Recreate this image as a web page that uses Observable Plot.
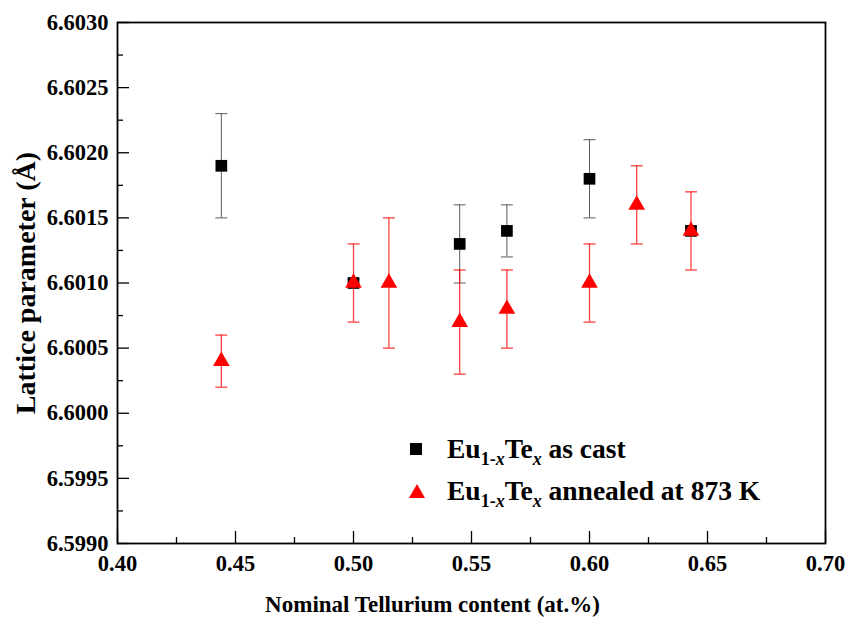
<!DOCTYPE html>
<html><head><meta charset="utf-8">
<script src="https://cdn.jsdelivr.net/npm/d3@7"></script>
<script src="https://cdn.jsdelivr.net/npm/@observablehq/plot@0.6"></script>
<style>
body{margin:0;background:#fff;}
#wrap{position:relative;width:845px;height:619px;font-family:"Liberation Serif","Tinos","Times New Roman","Times","DejaVu Serif",serif;}
.leg{position:absolute;font-weight:bold;font-size:27.5px;line-height:26px;white-space:nowrap;color:#000;}
.leg sub{font-size:18px;vertical-align:-7px;line-height:0;}
.leg svg{position:absolute;}
</style></head><body><div id="wrap"></div>
<script>
// ---- data ----
const castX     = [0.444, 0.500, 0.545, 0.565, 0.600, 0.643];
const castY     = [6.6019, 6.6010, 6.6013, 6.6014, 6.6018, 6.6014];
const castErr   = [0.0004, 0.00003, 0.0003, 0.0002, 0.0003, 0.00003];
const annealX   = [0.444, 0.500, 0.515, 0.545, 0.565, 0.600, 0.620, 0.643];
const annealY   = [6.6004, 6.6010, 6.6010, 6.6007, 6.6008, 6.6010, 6.6016, 6.6014];
const annealErr = [0.0002, 0.0003, 0.0005, 0.0004, 0.0003, 0.0003, 0.0003, 0.0003];
const xTicks = [0.40, 0.45, 0.50, 0.55, 0.60, 0.65, 0.70];
const xMinor = [0.425, 0.475, 0.525, 0.575, 0.625, 0.675];
const yTicks = [6.5990, 6.5995, 6.6000, 6.6005, 6.6010, 6.6015, 6.6020, 6.6025, 6.6030];
const yMinor = [6.59925, 6.59975, 6.60025, 6.60075, 6.60125, 6.60175, 6.60225, 6.60275];
const xTitle = "Nominal Tellurium content (at.%)";
const yTitle = "Lattice parameter (Å)";

const cast = castX.map((x, i) => ({x, y: castY[i], lo: castY[i] - castErr[i], hi: castY[i] + castErr[i]}));
const anneal = annealX.map((x, i) => ({x, y: annealY[i], lo: annealY[i] - annealErr[i], hi: annealY[i] + annealErr[i]}));

const cap = {draw(ctx, size) { const w = Math.sqrt(size / Math.PI); ctx.moveTo(-w, 0); ctx.lineTo(w, 0); }};
const black = "#000000", red = "#ff0000";
const serif = "'Liberation Serif','Tinos','Times New Roman','Times','DejaVu Serif',serif";

function bars(data, color, width, op) {
  return [
    Plot.ruleX(data, {x: "x", y1: "lo", y2: "hi", stroke: color, strokeWidth: width, strokeOpacity: op}),
    Plot.dot(data, {x: "x", y: "lo", symbol: cap, r: 6, fill: "none", stroke: color, strokeWidth: width, strokeOpacity: op}),
    Plot.dot(data, {x: "x", y: "hi", symbol: cap, r: 6, fill: "none", stroke: color, strokeWidth: width, strokeOpacity: op})
  ];
}

const chart = Plot.plot({
  width: 845, height: 619,
  marginLeft: 117, marginRight: 20, marginTop: 22, marginBottom: 76,
  style: {fontFamily: serif, fontWeight: "bold", fontSize: "22px", background: "#fff", color: "#000"},
  x: {domain: [0.40, 0.70], axis: null},
  y: {domain: [6.5990, 6.6030], axis: null},
  marks: [
    Plot.axisX(xTicks, {anchor: "bottom", tickSize: -12, fill: "none", label: null, strokeWidth: 1.3}),
    Plot.axisX(xMinor, {anchor: "bottom", tickSize: -6, fill: "none", label: null, strokeWidth: 1.3}),
    Plot.axisX(xTicks, {anchor: "bottom", tickSize: 0, tickPadding: 12, tickFormat: d3.format(".2f"), label: null, fontFamily: serif, fontSize: 22.5}),
    Plot.axisY(yTicks, {anchor: "left", tickSize: -12, fill: "none", label: null, strokeWidth: 1.3}),
    Plot.axisY(yMinor, {anchor: "left", tickSize: -6, fill: "none", label: null, strokeWidth: 1.3}),
    Plot.axisY(yTicks, {anchor: "left", tickSize: 0, tickPadding: 9, tickFormat: d3.format(".4f"), label: null, fontFamily: serif, fontSize: 22.5}),
    Plot.frame({stroke: "#000", strokeWidth: 1.8}),
    ...bars(cast, "#333", 1, 0.8),
    Plot.dot(cast, {x: "x", y: "y", symbol: "square", r: 6.6, fill: black, stroke: "none"}),
    ...bars(anneal, red, 1.3, 0.75),
    Plot.dot(anneal, {x: "x", y: "y", symbol: "triangle", r: 6.2, fill: red, stroke: "none"}),
    Plot.text([xTitle], {text: d => d, frameAnchor: "bottom", dy: 61, dx: -39, fontSize: 23, fontWeight: "bold", fontFamily: serif, lineAnchor: "middle", textAnchor: "middle"}),
    Plot.text([yTitle], {text: d => d, frameAnchor: "left", dx: -91, rotate: -90, fontSize: 28, fontWeight: "bold", fontFamily: serif, lineAnchor: "middle", textAnchor: "middle"})
  ]
});

const wrap = document.getElementById("wrap");
wrap.appendChild(chart);

const legendItems = [
  {label: 'Eu<sub>1-<i>x</i></sub>Te<sub><i>x</i></sub> as cast', color: black, shape: "square"},
  {label: 'Eu<sub>1-<i>x</i></sub>Te<sub><i>x</i></sub> annealed at 873 K', color: red, shape: "triangle"}
];
legendItems.forEach((it, i) => {
  const div = document.createElement("div");
  div.className = "leg";
  div.style.left = "447px";
  div.style.top = (436 + i * 42) + "px";
  div.innerHTML = it.label;
  wrap.appendChild(div);
  const sym = document.createElementNS("http://www.w3.org/2000/svg", "svg");
  sym.setAttribute("width", 20); sym.setAttribute("height", 20);
  sym.style.position = "absolute";
  sym.style.left = "406px";
  sym.style.top = (439 + i * 42) + "px";
  const p = document.createElementNS("http://www.w3.org/2000/svg", "path");
  p.setAttribute("d", it.shape === "square" ? "M4,4H16V16H4Z" : "M11,3L19,17H3Z");
  p.setAttribute("fill", it.color);
  sym.appendChild(p);
  wrap.appendChild(sym);
});
</script></body></html>
